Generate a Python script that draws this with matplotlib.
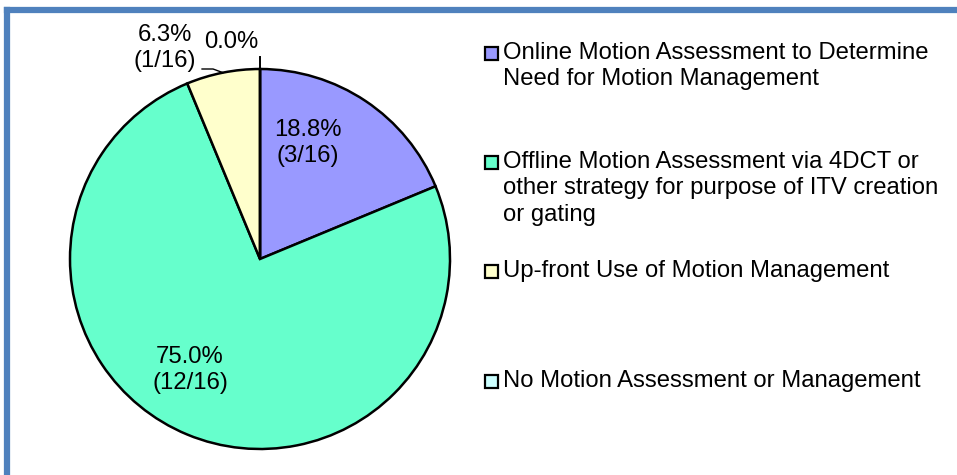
import matplotlib.pyplot as plt
from matplotlib.lines import Line2D
from matplotlib.patches import Rectangle
import numpy as np

plt.rcParams['font.family'] = ['Liberation Sans', 'DejaVu Sans']

categories = [
    "Online Motion Assessment to Determine\nNeed for Motion Management",
    "Offline Motion Assessment via 4DCT or\nother strategy for purpose of ITV creation\nor gating",
    "Up-front Use of Motion Management",
    "No Motion Assessment or Management",
]
counts = [3, 12, 1, 0]
colors = ["#9999FF", "#66FFCC", "#FFFFCC", "#CCFFFF"]

total = sum(counts)


def pct_label(n):
    p = np.floor(n / total * 1000 + 0.5) / 10
    if n == 0:
        return f"{p:.1f}%"
    return f"{p:.1f}%\n({n}/{total})"


W, H = 957, 475
fig = plt.figure(figsize=(W / 100, H / 100), dpi=100)

# pie axes: center (260, 259) px, radius 190 px
cx, cy, r = 260, 259, 190
ax = fig.add_axes([(cx - r) / W, (H - cy - r) / H, 2 * r / W, 2 * r / H])
wedges, _ = ax.pie(counts, colors=colors, startangle=90, counterclock=False,
                   wedgeprops=dict(edgecolor="black", linewidth=1.8))
ax.set_xlim(-1, 1)
ax.set_ylim(-1, 1)
ax.set_aspect("equal")
ax.axis("off")

fs = 17.2
ls = 1.25
label_pos = [(0.25, 0.611), (-0.368, -0.584), (-0.50, 1.11), (-0.153, 1.142)]
for n, (x, y) in zip(counts, label_pos):
    ax.text(x, y, pct_label(n), ha="center", va="center", fontsize=fs,
            linespacing=ls, clip_on=False)

# leader lines for the small slices
w = wedges[2]
a = np.deg2rad((w.theta1 + w.theta2) / 2)
ax.plot([-0.305, -0.247, np.cos(a)], [1.0, 1.0, np.sin(a)], color="black",
        lw=1.0, clip_on=False)
w = wedges[3]
a = np.deg2rad(w.theta1)
ax.plot([np.cos(a), np.cos(a)], [np.sin(a), 1.065], color="black", lw=1.4,
        clip_on=False)

# legend
tops = [42, 151, 260, 370]
for lab, col, top in zip(categories, colors, tops):
    fig.text(503 / W, 1 - top / H, lab, ha="left", va="top", fontsize=fs,
             linespacing=ls)
    fig.patches.append(Rectangle((485 / W, 1 - (top + 18) / H), 13 / W, 13 / H,
                                 transform=fig.transFigure, facecolor=col,
                                 edgecolor="black", lw=1.6))

# frame border (left and top)
bc = "#4F81BD"
fig.add_artist(Line2D([7 / W, 7 / W], [0, 1 - 10 / H], color=bc, lw=4.5,
                      transform=fig.transFigure, solid_capstyle="projecting"))
fig.add_artist(Line2D([7 / W, 1], [1 - 10 / H, 1 - 10 / H], color=bc, lw=4.5,
                      transform=fig.transFigure, solid_capstyle="projecting"))

fig.savefig("out.png", dpi=100, facecolor="white")
